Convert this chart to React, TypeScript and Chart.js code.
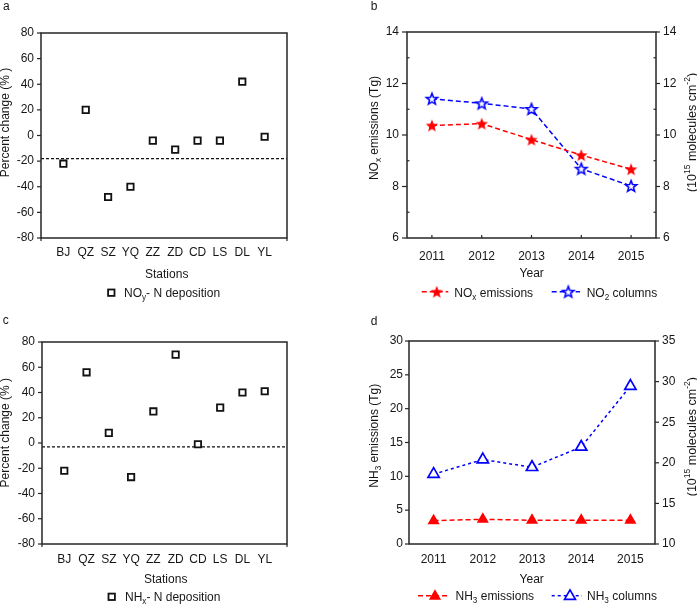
import React, { useEffect, useRef } from 'react';
import { Chart, registerables } from 'chart.js';

Chart.register(...registerables);

// ---------------- data ----------------
const STATIONS = ['BJ', 'QZ', 'SZ', 'YQ', 'ZZ', 'ZD', 'CD', 'LS', 'DL', 'YL'];
const NOY_CHANGE = [-22, 20, -48, -40, -4, -11, -4, -4, 42, -1];
const NOY_MEAN = -18;
const NHX_CHANGE = [-22, 56, 8, -27, 25, 70, -1, 28, 40, 41];
const NHX_MEAN = -3;
const PCT_TICKS = [-80, -60, -40, -20, 0, 20, 40, 60, 80];

const YEARS = [2011, 2012, 2013, 2014, 2015];
const NOX_EMISSIONS = [10.37, 10.44, 9.82, 9.22, 8.67];
const NO2_COLUMNS = [11.41, 11.23, 11.01, 8.69, 8.02];
const NOX_TICKS = [6, 8, 10, 12, 14];
const NOX_MINOR = [7, 9, 11, 13];

const NH3_EMISSIONS = [3.45, 3.65, 3.5, 3.5, 3.5];
const NH3_COLUMNS = [18.6, 20.4, 19.45, 21.95, 29.45];
const NH3_EMIS_TICKS = [0, 5, 10, 15, 20, 25, 30];
const NH3_COL_TICKS = [10, 15, 20, 25, 30, 35];

// ---------------- style ----------------
const FONT = "'Liberation Sans', Arial, Helvetica, sans-serif";
const INK = '#161616';
const AXIS = '#262626';
const RED = '#ff0000';
const BLUE = '#0000ff';
const tickFont = { family: FONT, size: 12 };

type Seg = { t: string; s?: 'sub' | 'sup' };

function segFont(size: number, s?: string) {
  return `${s ? size * 0.68 : size}px ${FONT}`;
}
function richWidth(ctx: CanvasRenderingContext2D, segs: Seg[], size: number) {
  let w = 0;
  for (const g of segs) {
    ctx.font = segFont(size, g.s);
    w += ctx.measureText(g.t).width;
  }
  return w;
}
function drawRich(
  ctx: CanvasRenderingContext2D,
  segs: Seg[],
  x: number,
  y: number,
  align: 'left' | 'center' = 'left',
  rotate = false,
  size = 12
) {
  ctx.save();
  ctx.translate(x, y);
  if (rotate) ctx.rotate(-Math.PI / 2);
  ctx.fillStyle = INK;
  ctx.textBaseline = 'alphabetic';
  ctx.textAlign = 'left';
  let cx = align === 'center' ? -richWidth(ctx, segs, size) / 2 : 0;
  for (const g of segs) {
    ctx.font = segFont(size, g.s);
    const dy = g.s === 'sub' ? size * 0.28 : g.s === 'sup' ? -size * 0.42 : 0;
    ctx.fillText(g.t, cx, dy);
    cx += ctx.measureText(g.t).width;
  }
  ctx.restore();
}

function line(ctx: CanvasRenderingContext2D, x1: number, y1: number, x2: number, y2: number) {
  ctx.beginPath();
  ctx.moveTo(x1, y1);
  ctx.lineTo(x2, y2);
  ctx.stroke();
}

function makeStar(fill: string, stroke: string | null, lw: number, R: number, ratio = 0.43) {
  const c = document.createElement('canvas');
  const size = 18;
  c.width = size;
  c.height = size;
  const g = c.getContext('2d')!;
  const cx = size / 2;
  const cy = size / 2 + R * 0.095;
  g.beginPath();
  for (let i = 0; i < 10; i++) {
    const r = i % 2 === 0 ? R : R * ratio;
    const a = -Math.PI / 2 + (i * Math.PI) / 5;
    const px = cx + r * Math.cos(a);
    const py = cy + r * Math.sin(a);
    if (i === 0) g.moveTo(px, py);
    else g.lineTo(px, py);
  }
  g.closePath();
  g.fillStyle = fill;
  g.fill();
  if (stroke) {
    g.lineWidth = lw;
    g.strokeStyle = stroke;
    g.lineJoin = 'miter';
    g.stroke();
  }
  return c;
}

function drawTriangle(ctx: CanvasRenderingContext2D, x: number, y: number, r: number, fill: string, stroke: string | null, lw: number) {
  ctx.save();
  ctx.beginPath();
  ctx.moveTo(x, y - r);
  ctx.lineTo(x + Math.sin((2 * Math.PI) / 3) * r, y + r / 2);
  ctx.lineTo(x - Math.sin((2 * Math.PI) / 3) * r, y + r / 2);
  ctx.closePath();
  ctx.fillStyle = fill;
  ctx.fill();
  if (stroke) {
    ctx.lineWidth = lw;
    ctx.strokeStyle = stroke;
    ctx.stroke();
  }
  ctx.restore();
}

// ---------------- scale builders ----------------
function yScale(o: { position: 'left' | 'right'; min: number; max: number; ticks: number[]; width: number; tickLength: number; padding: number }) {
  return {
    type: 'linear',
    position: o.position,
    min: o.min,
    max: o.max,
    afterBuildTicks: (s: any) => {
      s.ticks = o.ticks.map((v) => ({ value: v }));
    },
    afterFit: (s: any) => {
      s.width = o.width;
    },
    grid: { display: true, drawOnChartArea: false, drawTicks: true, tickLength: o.tickLength, color: 'rgba(0,0,0,0)' },
    border: { display: false },
    ticks: { padding: o.padding, color: INK, font: tickFont, autoSkip: false },
  };
}
function xScale(o: { min: number; max: number; ticks: number[]; label: (v: number) => string; height: number; padding: number }) {
  return {
    type: 'linear',
    position: 'bottom',
    min: o.min,
    max: o.max,
    afterBuildTicks: (s: any) => {
      s.ticks = o.ticks.map((v) => ({ value: v }));
    },
    afterFit: (s: any) => {
      s.height = o.height;
    },
    grid: { display: true, drawOnChartArea: false, drawTicks: true, tickLength: 4, color: 'rgba(0,0,0,0)' },
    border: { display: false },
    ticks: { padding: o.padding, color: INK, font: tickFont, autoSkip: false, maxRotation: 0, callback: (v: any) => o.label(Number(v)) },
  };
}

const baseOptions = (padding: any, scales: any) => ({
  responsive: false,
  animation: false,
  events: [],
  layout: { padding },
  plugins: { legend: { display: false }, tooltip: { enabled: false }, title: { display: false } },
  scales,
});

// ---------------- panel a / c ----------------
function stationConfig(values: number[], mean: number, geo: any, legendSub: string, legendHead: string) {
  const plugin = {
    id: 'deco' + legendSub,
    afterDraw(chart: any) {
      const { ctx, chartArea: ca, scales } = chart;
      const x = scales.x;
      const y = scales.y;
      ctx.save();
      ctx.strokeStyle = AXIS;
      ctx.lineWidth = 1.5;
      ctx.strokeRect(ca.left, ca.top, ca.right - ca.left, ca.bottom - ca.top);
      ctx.lineWidth = 1.2;
      PCT_TICKS.forEach((v) => {
        const py = y.getPixelForValue(v);
        line(ctx, ca.left - 4, py, ca.left, py);
      });
      [x.min, x.max].forEach((v: number) => {
        const px = x.getPixelForValue(v);
        line(ctx, px, ca.bottom, px, ca.bottom + 3);
      });
      // texts
      drawRich(ctx, [{ t: geo.letter }], geo.letterX, geo.letterY);
      drawRich(ctx, [{ t: 'Percent change (% )' }], 8.5, geo.yTitleC, 'center', true);
      drawRich(ctx, [{ t: 'Stations' }], geo.xTitleX, geo.xTitleY, 'center');
      // legend
      const s = 6.4;
      ctx.fillStyle = '#fff';
      ctx.strokeStyle = '#111';
      ctx.lineWidth = 1.8;
      ctx.fillRect(geo.legX - s / 2, geo.legY - s / 2, s, s);
      ctx.strokeRect(geo.legX - s / 2, geo.legY - s / 2, s, s);
      drawRich(ctx, [{ t: legendHead }, { t: legendSub, s: 'sub' }, { t: '- N deposition' }], geo.legTextX, geo.legTextY);
      ctx.restore();
    },
  };
  return {
    type: 'scatter',
    data: {
      datasets: [
        {
          data: values.map((v, i) => ({ x: i + 1, y: v })),
          pointStyle: 'rect',
          pointRadius: 4.5,
          pointBackgroundColor: '#fff',
          pointBorderColor: '#111',
          pointBorderWidth: 1.8,
          showLine: false,
        },
        {
          data: [
            { x: 0, y: mean },
            { x: STATIONS.length + 1, y: mean },
          ],
          showLine: true,
          borderColor: '#111',
          borderWidth: 1.2,
          borderDash: [3, 2],
          pointRadius: 0,
        },
      ],
    },
    options: baseOptions(
      { left: 0, right: 350 - geo.right, top: geo.top, bottom: 0 },
      {
        x: xScale({
          min: 0,
          max: STATIONS.length + 1,
          ticks: STATIONS.map((_, i) => i + 1),
          label: (v) => STATIONS[v - 1] ?? '',
          height: 303 - geo.bottom,
          padding: geo.xPad,
        }),
        y: yScale({ position: 'left', min: -80, max: 80, ticks: PCT_TICKS, width: geo.left, tickLength: 4, padding: 3 }),
      }
    ),
    plugins: [plugin],
  };
}

// ---------------- panel b ----------------
function noxConfig() {
  const redStar = makeStar(RED, null, 0, 6.5);
  const blueStar = makeStar('#fff', BLUE, 1.6, 5.9);
  const plugin = {
    id: 'decoB',
    afterDraw(chart: any) {
      const { ctx, chartArea: ca, scales } = chart;
      const { x, y, y2 } = scales;
      ctx.save();
      ctx.strokeStyle = AXIS;
      ctx.lineWidth = 1.5;
      ctx.strokeRect(ca.left, ca.top, ca.right - ca.left, ca.bottom - ca.top);
      ctx.lineWidth = 1.2;
      NOX_TICKS.forEach((v) => {
        const py = y.getPixelForValue(v);
        line(ctx, ca.left - 5, py, ca.left, py);
        const py2 = y2.getPixelForValue(v);
        line(ctx, ca.right, py2, ca.right + 4, py2);
      });
      NOX_MINOR.forEach((v) => {
        const py = y.getPixelForValue(v);
        line(ctx, ca.left, py, ca.left + 2.5, py);
        const py2 = y2.getPixelForValue(v);
        line(ctx, ca.right - 2.5, py2, ca.right, py2);
      });
      YEARS.forEach((v) => {
        const px = x.getPixelForValue(v);
        line(ctx, px, ca.bottom, px, ca.bottom - 3);
      });
      drawRich(ctx, [{ t: 'b' }], 20.7, 10);
      drawRich(ctx, [{ t: 'NO' }, { t: 'x', s: 'sub' }, { t: ' emissions (Tg)' }], 27.5, 128, 'center', true);
      drawRich(ctx, [{ t: '(10' }, { t: '15', s: 'sup' }, { t: ' molecules cm' }, { t: '-2', s: 'sup' }, { t: ')' }], 345.5, 132.5, 'center', true, 12.5);
      drawRich(ctx, [{ t: 'Year' }], 181.7, 277, 'center');
      // legend
      const ly = 291.7;
      ctx.lineWidth = 1.5;
      ctx.setLineDash([5, 3]);
      ctx.strokeStyle = RED;
      line(ctx, 71.7, ly, 98.3, ly);
      ctx.strokeStyle = BLUE;
      line(ctx, 201.7, ly, 230, ly);
      ctx.setLineDash([]);
      ctx.drawImage(redStar, 86.7 - redStar.width / 2, ly - redStar.height / 2);
      ctx.drawImage(blueStar, 218.3 - blueStar.width / 2, ly - blueStar.height / 2);
      drawRich(ctx, [{ t: 'NO' }, { t: 'x', s: 'sub' }, { t: ' emissions' }], 104.3, 296.7);
      drawRich(ctx, [{ t: 'NO' }, { t: '2', s: 'sub' }, { t: ' columns' }], 236.7, 296.7);
      ctx.restore();
    },
  };
  return {
    type: 'scatter',
    data: {
      datasets: [
        {
          data: YEARS.map((yr, i) => ({ x: yr, y: NOX_EMISSIONS[i] })),
          yAxisID: 'y',
          showLine: true,
          borderColor: RED,
          borderWidth: 1.5,
          borderDash: [5, 3],
          pointStyle: redStar,
          pointRadius: 7,
        },
        {
          data: YEARS.map((yr, i) => ({ x: yr, y: NO2_COLUMNS[i] })),
          yAxisID: 'y2',
          showLine: true,
          borderColor: BLUE,
          borderWidth: 1.5,
          borderDash: [5, 3],
          pointStyle: blueStar,
          pointRadius: 7,
        },
      ],
    },
    options: baseOptions(
      { left: 0, right: 0, top: 32, bottom: 0 },
      {
        x: xScale({ min: 2010.5, max: 2015.5, ticks: YEARS, label: (v) => String(v), height: 303 - 238, padding: 7 }),
        y: yScale({ position: 'left', min: 6, max: 14, ticks: NOX_TICKS, width: 57, tickLength: 5, padding: 3 }),
        y2: yScale({ position: 'right', min: 6, max: 14, ticks: NOX_TICKS, width: 347 - 306, tickLength: 4, padding: 3 }),
      }
    ),
    plugins: [plugin],
  };
}

// ---------------- panel d ----------------
function nh3Config() {
  const plugin = {
    id: 'decoD',
    afterDraw(chart: any) {
      const { ctx, chartArea: ca, scales } = chart;
      const { y, y2 } = scales;
      ctx.save();
      ctx.strokeStyle = AXIS;
      ctx.lineWidth = 1.5;
      ctx.strokeRect(ca.left, ca.top, ca.right - ca.left, ca.bottom - ca.top);
      ctx.lineWidth = 1.2;
      NH3_EMIS_TICKS.forEach((v) => {
        const py = y.getPixelForValue(v);
        line(ctx, ca.left - 4, py, ca.left, py);
      });
      NH3_COL_TICKS.forEach((v) => {
        const py = y2.getPixelForValue(v);
        line(ctx, ca.right, py, ca.right + 4, py);
      });
      drawRich(ctx, [{ t: 'd' }], 20.7, 22);
      drawRich(ctx, [{ t: 'NH' }, { t: '3', s: 'sub' }, { t: ' emissions (Tg)' }], 28, 132.7, 'center', true);
      drawRich(ctx, [{ t: '(10' }, { t: '15', s: 'sup' }, { t: ' molecules cm' }, { t: '-2', s: 'sup' }, { t: ')' }], 345.5, 133.7, 'center', true, 12.5);
      drawRich(ctx, [{ t: 'Year' }], 181.7, 280.3, 'center');
      const ly = 292.7;
      ctx.lineWidth = 1.5;
      ctx.setLineDash([5, 3]);
      ctx.strokeStyle = RED;
      line(ctx, 68, ly, 100, ly);
      ctx.setLineDash([3, 3]);
      ctx.strokeStyle = BLUE;
      line(ctx, 201.7, ly, 232, ly);
      ctx.setLineDash([]);
      drawTriangle(ctx, 85, ly + 0.5, 7, RED, null, 0);
      drawTriangle(ctx, 220, ly + 0.5, 6.3, '#fff', BLUE, 1.7);
      drawRich(ctx, [{ t: 'NH' }, { t: '3', s: 'sub' }, { t: ' emissions' }], 105.5, 297);
      drawRich(ctx, [{ t: 'NH' }, { t: '3', s: 'sub' }, { t: ' columns' }], 237, 297);
      ctx.restore();
    },
  };
  return {
    type: 'scatter',
    data: {
      datasets: [
        {
          data: YEARS.map((yr, i) => ({ x: yr, y: NH3_EMISSIONS[i] })),
          yAxisID: 'y',
          showLine: true,
          borderColor: RED,
          borderWidth: 1.5,
          borderDash: [5, 3],
          pointStyle: 'triangle',
          pointRadius: 7,
          pointBackgroundColor: RED,
          pointBorderColor: RED,
          pointBorderWidth: 0,
        },
        {
          data: YEARS.map((yr, i) => ({ x: yr, y: NH3_COLUMNS[i] })),
          yAxisID: 'y2',
          showLine: true,
          borderColor: BLUE,
          borderWidth: 1.5,
          borderDash: [3, 3],
          pointStyle: 'triangle',
          pointRadius: 6.5,
          pointBackgroundColor: '#fff',
          pointBorderColor: BLUE,
          pointBorderWidth: 1.7,
        },
      ],
    },
    options: baseOptions(
      { left: 0, right: 0, top: 38, bottom: 0 },
      {
        x: xScale({ min: 2010.5, max: 2015.5, ticks: YEARS, label: (v) => String(v), height: 303 - 241, padding: 4 }),
        y: yScale({ position: 'left', min: 0, max: 30, ticks: NH3_EMIS_TICKS, width: 59, tickLength: 4, padding: 2 }),
        y2: yScale({ position: 'right', min: 10, max: 35, ticks: NH3_COL_TICKS, width: 347 - 305, tickLength: 4, padding: 3 }),
      }
    ),
    plugins: [plugin],
  };
}

const GEO_A = {
  letter: 'a', letterX: 3, letterY: 9.5,
  left: 41, right: 287, top: 33, bottom: 238, xPad: 3,
  yTitleC: 122.5, xTitleX: 166.7, xTitleY: 278,
  legX: 111.3, legY: 292.7, legTextX: 124, legTextY: 296.7,
};
const GEO_C = {
  letter: 'c', letterX: 2.7, letterY: 21.3,
  left: 42, right: 287, top: 39, bottom: 241, xPad: 4,
  yTitleC: 129.7, xTitleX: 165.7, xTitleY: 280.3,
  legX: 111.7, legY: 293.8, legTextX: 125, legTextY: 297.7,
};

export default function App() {
  const aRef = useRef<HTMLCanvasElement>(null);
  const bRef = useRef<HTMLCanvasElement>(null);
  const cRef = useRef<HTMLCanvasElement>(null);
  const dRef = useRef<HTMLCanvasElement>(null);

  useEffect(() => {
    const charts = [
      new Chart(aRef.current!, stationConfig(NOY_CHANGE, NOY_MEAN, GEO_A, 'y', 'NO') as any),
      new Chart(bRef.current!, noxConfig() as any),
      new Chart(cRef.current!, stationConfig(NHX_CHANGE, NHX_MEAN, GEO_C, 'x', 'NH') as any),
      new Chart(dRef.current!, nh3Config() as any),
    ];
    return () => charts.forEach((c) => c.destroy());
  }, []);

  const cs = (left: number, top: number): React.CSSProperties => ({ position: 'absolute', left, top, display: 'block' });

  return (
    <div style={{ position: 'absolute', left: 0, top: 0, width: 697, height: 606, background: '#fff', overflow: 'hidden' }}>
      <canvas ref={aRef} width={350} height={303} style={cs(0, 0)} />
      <canvas ref={bRef} width={347} height={303} style={cs(350, 0)} />
      <canvas ref={cRef} width={350} height={303} style={cs(0, 303)} />
      <canvas ref={dRef} width={347} height={303} style={cs(350, 303)} />
    </div>
  );
}
